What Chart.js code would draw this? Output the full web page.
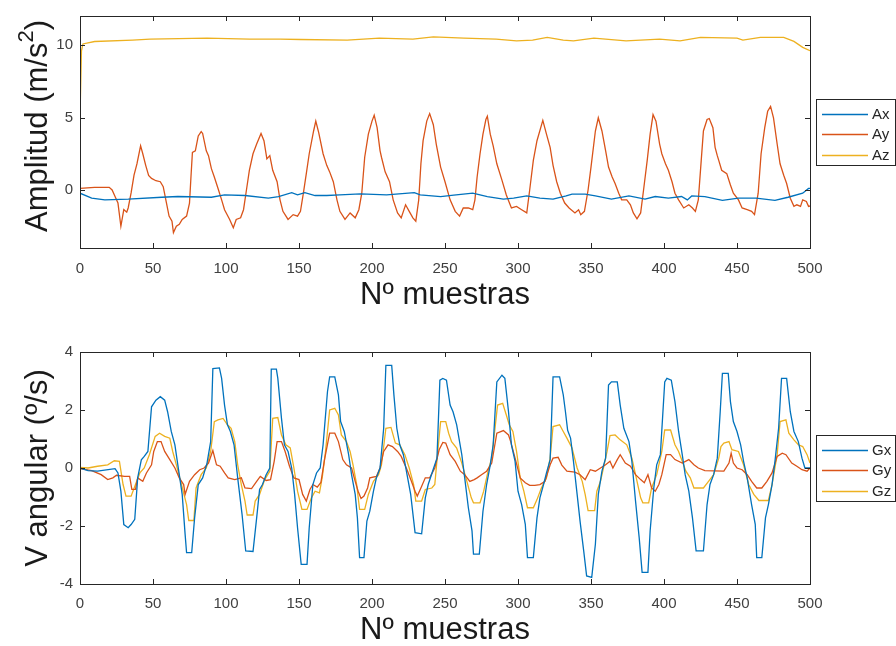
<!DOCTYPE html>
<html>
<head>
<meta charset="utf-8">
<script src="https://cdn.jsdelivr.net/npm/chart.js@4.4.1/dist/chart.umd.min.js"></script>
<style>
  html, body { margin: 0; padding: 0; background: #fff; overflow: hidden; }
  #wrap { position: relative; width: 896px; height: 646px; }
  canvas { position: absolute; left: 0; }
  #accChart { top: 0; }
  #gyroChart { top: 328px; }
</style>
</head>
<body>
<div id="wrap">
  <canvas id="accChart" width="896" height="318"></canvas>
  <canvas id="gyroChart" width="896" height="318"></canvas>
</div>
<script>
// tick labels
const xTicks = [0, 50, 100, 150, 200, 250, 300, 350, 400, 450, 500];
const accTicks = [0, 5, 10];
const gyroTicks = [-4, -2, 0, 2, 4];

// accelerometer, [sample, value]
const ax = [[0,-0.22],[8,-0.56],[17,-0.68],[33,-0.63],[56,-0.5],[67,-0.45],[90,-0.5],[99,-0.34],[113,-0.38],[129,-0.56],[136,-0.45],[145,-0.18],[149,-0.34],[154,-0.18],[161,-0.38],[169,-0.38],[178,-0.34],[192,-0.27],[210,-0.34],[229,-0.18],[233,-0.34],[247,-0.45],[256,-0.36],[269,-0.22],[279,-0.45],[290,-0.63],[297,-0.56],[306,-0.41],[315,-0.56],[324,-0.63],[333,-0.41],[337,-0.29],[346,-0.29],[353,-0.41],[364,-0.63],[376,-0.41],[387,-0.63],[394,-0.45],[403,-0.56],[412,-0.45],[416,-0.68],[419,-0.41],[428,-0.45],[440,-0.72],[451,-0.56],[463,-0.56],[476,-0.72],[485,-0.5],[495,-0.22],[499,0.11],[500,0.11]];

const ay = [[0,0.11],[10,0.18],[20,0.18],[22,0],[24,-0.45],[26,-0.9],[28,-2.5],[30,-1.35],[32,-1.53],[33,-1.24],[35,-0.2],[37,1.02],[39,1.8],[41.5,3.05],[43,2.5],[45,1.7],[47,1.0],[49,0.8],[52,0.64],[55,0.57],[57,0.23],[59,-0.79],[61,-1.8],[63,-2.15],[64,-2.94],[66,-2.5],[68,-2.37],[70,-2.03],[73,-1.8],[75,-0.9],[76,0.9],[77,2.6],[79,2.7],[81,3.73],[83,4.03],[84,3.9],[86.5,2.7],[88,2.37],[90,1.47],[92,0.9],[94.5,0.12],[97,-0.68],[99,-1.36],[102.5,-2.03],[105,-2.6],[107,-2.03],[110,-1.92],[112,-1.36],[114,0],[116,1.36],[118.5,2.5],[121,3.17],[124,3.9],[126,3.4],[128,2.15],[130,2.37],[132,1.36],[135,0.57],[137,-0.68],[139,-1.47],[142.5,-2.03],[146,-1.7],[149,-1.8],[151,-1.47],[153,-0.22],[155,1.13],[157,2.5],[160,4.07],[161.5,4.75],[163.5,3.96],[166.5,2.5],[169,1.7],[171,1.25],[173.5,0.57],[176,-0.68],[178,-1.47],[181.5,-2.03],[185,-1.58],[188.5,-1.92],[191,-1.36],[193,-0.22],[195,2.26],[197.5,3.85],[200,4.75],[201.5,5.16],[203.5,4.3],[205.5,2.72],[206.5,2.26],[209,1.25],[212,0.57],[214.5,-0.68],[217.5,-1.58],[220,-1.92],[223,-1.02],[225.5,-1.47],[228,-1.92],[230,-2.15],[232,-0.68],[233.5,1.81],[235,3.4],[237.5,4.75],[239.5,5.27],[242,4.5],[244,3.17],[247,1.58],[250,0.57],[253.5,-0.68],[257,-1.47],[260,-1.8],[262.5,-1.24],[266,-1.24],[269,-1.36],[270.5,-0.68],[272,0.9],[274,2.5],[276,3.85],[278,4.86],[279,5.09],[281,3.85],[283,3.05],[285.5,1.81],[289,0.68],[292,-0.34],[295.5,-1.24],[299,-1.13],[302.5,-1.36],[306,-1.58],[308,0],[310.5,2.04],[313,3.4],[317,4.8],[319.5,3.85],[322,2.94],[324,1.7],[326.5,0.57],[329,-0.22],[332,-0.9],[335,-1.24],[339,-1.58],[341.5,-1.36],[343,-1.7],[345.5,-1.47],[348,0],[350,1.58],[353,4.07],[355,4.98],[357.5,4.07],[360,2.72],[362,1.58],[364.5,0.9],[366.5,0.45],[369,-0.22],[371,-0.68],[374.5,-0.68],[377,-1.02],[379,-1.58],[381.5,-1.99],[384,-1.58],[386,0],[388.5,2.04],[390.5,3.85],[392.5,5.2],[394.5,4.75],[397,3.17],[398.5,2.5],[401,1.81],[403,1.36],[405.5,0.57],[407.5,-0.22],[410,-0.68],[413.5,-1.24],[417,-1.02],[419.5,-1.24],[421.5,-1.47],[423.5,-0.68],[425.5,2.04],[427,4.07],[429.5,4.86],[431,4.93],[433.5,4.3],[435,2.94],[436.5,2.37],[437.5,2.04],[439.5,1.36],[443,1.13],[445.5,0.34],[447.5,-0.22],[451,-0.68],[453.5,-1.24],[457,-1.36],[460,-1.47],[462,-1.7],[464.5,-0.22],[466.5,2.5],[469,4.3],[471,5.43],[473,5.77],[475,4.98],[477.5,3.17],[479.5,1.81],[482,1.02],[484,0.45],[486.5,-0.57],[489,-1.13],[491,-1.02],[493.5,-1.13],[495,-0.68],[497.5,-0.79],[499,-1.13],[500,-1.1]];

const az = [[0,5.05],[1,9.6],[2,10.07],[10,10.24],[36,10.34],[48,10.4],[87,10.47],[116,10.4],[137,10.4],[151,10.38],[183,10.34],[205,10.47],[228,10.4],[242,10.56],[263,10.47],[285,10.4],[299,10.29],[310,10.34],[320,10.52],[331,10.34],[338,10.29],[352,10.47],[374,10.29],[397,10.4],[411,10.29],[425,10.52],[450,10.47],[454,10.34],[466,10.52],[482,10.52],[489,10.25],[495,9.84],[500,9.61]];

// gyroscope
const gx = [[0,0],[5.5,-0.09],[12,-0.11],[24,-0.02],[26,-0.17],[28,-0.8],[30,-1.95],[33,-2.06],[35,-1.95],[37.5,-1.77],[39.5,-0.34],[42,0.28],[44,0.4],[46.5,0.57],[49,2.11],[52,2.34],[55,2.46],[58,2.34],[60,1.94],[62.5,1.26],[65,0.8],[67,0.11],[70,-0.91],[72,-2.29],[73,-2.92],[76.5,-2.92],[78.5,-1.72],[81,-0.57],[84,-0.34],[87,0.17],[89.5,0.91],[91,3.43],[95.5,3.45],[97,3.09],[99,2.17],[101,1.49],[103,1.26],[105.5,0.8],[108,-0.34],[111,-1.6],[113.5,-2.86],[118.5,-2.88],[121,-1.72],[123,-0.74],[125,-0.57],[127.5,-0.23],[130,0],[131,3.41],[134.5,3.41],[135.5,3.09],[138,1.71],[140,0.8],[142.5,0.57],[145,0],[147,-0.91],[149,-2.06],[151.5,-3.32],[155.5,-3.32],[157,-2.06],[159.5,-0.57],[162,-0.17],[164.5,0],[166.5,0.8],[169.5,2.63],[171,3.14],[174.5,3.14],[177,2.52],[178.5,1.6],[181,1.26],[184,0.46],[186,-0.23],[188.5,-0.91],[190,-1.72],[191.5,-3.09],[194.5,-3.09],[196.5,-1.83],[198.5,-1.49],[201,-0.8],[203,-0.34],[205.5,0],[208,1.37],[209.5,3.54],[213.5,3.54],[215,2.52],[217,1.37],[219,0.8],[221.5,0.46],[224,-0.23],[226.5,-0.91],[229.5,-2.23],[234,-2.27],[236.5,-1.03],[238.5,-0.57],[241.5,-0.11],[244.5,0.34],[246.5,3.03],[248.5,3.09],[251,3.03],[253.5,2.17],[255.5,1.94],[258,1.49],[261.5,0.46],[263.5,-0.34],[266,-1.37],[268.5,-2.17],[269.5,-2.97],[273.5,-2.97],[276,-1.49],[278.5,-0.57],[281,0.11],[283,0.8],[285.5,2.97],[289,3.2],[291,3.09],[293.5,1.94],[295.5,0.8],[298,0.23],[300,-0.8],[302.5,-1.26],[305,-1.94],[306.5,-3.09],[310.5,-3.09],[313,-1.72],[315,-1.03],[317.5,-0.57],[319.5,-0.17],[322,0.28],[324,3.14],[328.5,3.14],[331,2.52],[332.5,1.94],[334,1.3],[336,1.03],[338,0.23],[340.5,-0.91],[342.5,-1.83],[345,-2.86],[347,-3.72],[350.5,-3.77],[353,-2.63],[355,-0.91],[357.5,-0.11],[360,0.34],[362,2.86],[364,2.97],[368,2.97],[370,2.17],[372.5,1.37],[376,0.91],[378,0.23],[380.5,-1.14],[383,-2.4],[385,-3.6],[389,-3.6],[390.5,-2.17],[393,-0.69],[395,0.11],[397.5,0.46],[400.5,2.97],[402,3.09],[405,3.03],[407.5,2.29],[410,1.26],[412.5,0.46],[414.5,-0.23],[417,-0.8],[419.5,-1.72],[422,-2.86],[427,-2.86],[429.5,-1.26],[431.5,-0.57],[434,-0.23],[436.5,0.34],[438.5,1.94],[440,3.26],[444,3.26],[445.5,2.29],[447.5,1.6],[450,1.26],[452.5,0.8],[454.5,0.23],[457,-0.34],[460,-1.26],[462.5,-1.94],[463.5,-3.09],[467,-3.09],[469.5,-1.72],[471.5,-1.26],[474,-0.57],[476,0.23],[478.5,1.37],[480.5,3.09],[484,3.09],[486.5,1.94],[489,1.26],[492,0.91],[494.5,0.34],[496.5,0],[500,0]];

const gy = [[0,-0.02],[8,-0.09],[14.5,-0.23],[19,-0.4],[22.5,-0.34],[25,-0.25],[30.5,-0.29],[34,-0.29],[35.5,-0.74],[38,-0.74],[39.5,-0.34],[43,-0.46],[45.5,-0.17],[49,0.11],[50.5,0.57],[53,0.91],[55.5,0.91],[58,0.57],[61.5,0.29],[65,0],[68,-0.34],[71,-0.57],[72,-0.91],[75,-0.46],[78.5,-0.23],[82,-0.06],[85,0],[88,0.17],[91,0.6],[93.5,0.11],[96,0.06],[99,-0.17],[101.5,-0.34],[106,-0.4],[110.5,-0.34],[113,-0.69],[117.5,-0.71],[121,-0.46],[123.5,-0.29],[127.5,-0.43],[130.5,-0.4],[133,0.23],[135,0.91],[138,0.91],[140.5,0.57],[143.5,0.06],[146.5,-0.34],[150,-0.4],[152.5,-0.91],[155,-1.14],[157.5,-0.74],[159.5,-0.57],[162.5,-0.66],[165,-0.5],[167.5,0.3],[171,1.2],[174.5,1.2],[177,0.91],[180,0.29],[182.5,0.11],[186,0],[188.5,-0.46],[190.5,-0.8],[192.5,-1.05],[194.5,-0.97],[197,-0.69],[198.5,-0.34],[203,-0.29],[205.5,0],[208,0.57],[211,0.8],[214,0.74],[217.5,0.57],[220,0.4],[224,-0.06],[227,-0.46],[229.5,-0.8],[231,-0.97],[233.5,-0.69],[236.5,-0.34],[239.5,-0.34],[243,0],[246,0.63],[248.5,0.88],[250.5,0.86],[253.5,0.46],[257,0.23],[260.5,-0.11],[263.5,-0.23],[267,-0.46],[270,-0.4],[272,-0.34],[275,-0.23],[278.5,-0.11],[282,0.17],[285.5,1.2],[290,1.29],[293.5,1.14],[295,0.91],[298,0.34],[301.5,-0.34],[305,-0.51],[308,-0.6],[311.5,-0.6],[315,-0.57],[318.5,-0.46],[322,0.11],[324,0.34],[327.5,0.37],[330,0.1],[333.5,-0.11],[339,-0.14],[342.5,-0.23],[346,-0.4],[349.5,-0.06],[353,-0.11],[356.5,0],[360,0.11],[363,0.23],[365,0],[368,0.29],[370,0.46],[373.5,0.17],[377,0.06],[380.5,-0.23],[384,-0.4],[386.5,-0.51],[389,-0.23],[391.5,-0.69],[394,-0.8],[396.5,-0.57],[398.5,-0.23],[401.5,0.46],[404.5,0.46],[407.5,0.29],[412.5,0.17],[417,0.29],[420.5,0.11],[423.5,0],[428,-0.09],[441,-0.11],[444.5,0.17],[446,0.51],[447.5,0.17],[450,0],[453.5,-0.06],[457,-0.23],[460,-0.46],[463.5,-0.69],[467,-0.69],[470.5,-0.46],[474,-0.17],[477.5,0.4],[481,0.51],[483.5,0.46],[487.5,0.17],[491,0.06],[494.5,-0.06],[498,-0.11],[500,0]];

const gz = [[0,0.02],[5.5,0],[12,0.06],[19,0.11],[23.5,0.25],[27,0.23],[29.5,-0.57],[31.5,-0.97],[35,-0.97],[38,-0.57],[41,-0.17],[44,0],[47.5,0.46],[51.5,1.09],[54.5,1.2],[58,1.09],[61.5,1.03],[63.5,0.57],[66,0.11],[69.5,-0.57],[73,-1.26],[74.5,-1.81],[78,-1.81],[79.5,-0.69],[83,-0.23],[86.5,0],[89.5,0.57],[92,1.6],[94.5,1.66],[98,1.71],[101,1.49],[103.5,1.37],[106,0.91],[108,0.11],[110.5,-0.57],[113,-1.14],[114.5,-1.62],[118.5,-1.62],[120,-1.14],[123,-0.91],[126.5,-0.4],[130,-0.11],[132,1.71],[135.5,1.74],[138,1.14],[141,0.8],[144,0.69],[146.5,0],[149,-0.8],[152,-1.43],[155.5,-1.43],[158.5,-1.03],[161,-0.8],[164,-0.86],[166,-0.3],[168,0.5],[171,2.0],[174.5,2.06],[177,1.83],[179,1.14],[182.5,0.91],[185,0.57],[187,0.11],[189.5,-0.57],[191.5,-1.43],[195,-1.43],[197.5,-0.91],[201,-0.46],[204.5,-0.23],[206.5,0.11],[209.5,1.37],[213,1.4],[216,0.86],[219,0.8],[222.5,0.46],[225.5,0],[228.5,-0.57],[230,-1.14],[234,-1.14],[236.5,-0.74],[241,-0.69],[243,-0.57],[245.5,0.8],[247,1.6],[250.5,1.6],[252.5,1.2],[254.5,0.91],[258,0.69],[261.5,0.17],[265,-0.46],[268,-1.03],[269.5,-1.2],[274,-1.2],[276.5,-0.8],[279.5,-0.11],[282,0.34],[286,2.17],[289.5,2.23],[292,1.83],[294,1.49],[296.5,1.26],[299,0.57],[301.5,-0.34],[304,-0.8],[306.5,-1.37],[310.5,-1.37],[313,-1.09],[316,-0.69],[319.5,-0.34],[322,0.34],[324,1.43],[328.5,1.49],[331,1.26],[333.5,1.03],[337,0.69],[340.5,0],[344,-0.46],[346,-0.91],[348,-1.47],[352.5,-1.47],[354,-0.8],[356.5,-0.46],[358.5,0],[361,0.57],[363,1.12],[366.5,1.14],[370,0.97],[374.5,0.8],[378,0.34],[381,-0.34],[384,-1.03],[385.5,-1.2],[389.5,-1.2],[391.5,-0.69],[395,-0.23],[398.5,0.57],[400.5,1.31],[404.5,1.31],[407.5,0.8],[410,0.57],[412.5,0.23],[415,-0.11],[418,-0.34],[420.5,-0.69],[427,-0.69],[430.5,-0.46],[434,-0.23],[437.5,0.34],[439,0.74],[441,0.86],[444.5,0.91],[446.5,0.63],[451,0.57],[454.5,0.11],[458,-0.57],[461.5,-0.91],[465,-1.12],[471.5,-1.12],[474,-0.57],[477.5,0.46],[479.5,1.6],[483.5,1.66],[485.5,1.2],[489,0.97],[492,0.8],[495,0.74],[498,0.46],[500,0.17]];

const BLUE = "#0072bd";
const ORANGE = "#d95319";
const YELLOW = "#edb120";
const AXIS = "#262626";
const FONT = "'Liberation Sans', Arial, Helvetica, sans-serif";
const TITLE_SIZE = 31;

// MATLAB-style box with inward ticks on all four sides
const framePlugin = {
  id: "frame",
  afterDatasetsDraw(chart) {
    const { ctx, chartArea: a, scales } = chart;
    ctx.save();
    ctx.strokeStyle = AXIS;
    ctx.lineWidth = 1;
    ctx.beginPath();
    scales.x.ticks.forEach((t) => {
      const px = Math.round(scales.x.getPixelForValue(t.value)) + 0.5;
      ctx.moveTo(px, a.bottom);
      ctx.lineTo(px, a.bottom - 5);
      ctx.moveTo(px, a.top);
      ctx.lineTo(px, a.top + 5);
    });
    scales.y.ticks.forEach((t) => {
      const py = Math.round(scales.y.getPixelForValue(t.value)) + 0.5;
      ctx.moveTo(a.left, py);
      ctx.lineTo(a.left + 5, py);
      ctx.moveTo(a.right, py);
      ctx.lineTo(a.right - 5, py);
    });
    ctx.stroke();
    ctx.strokeRect(a.left + 0.5, a.top + 0.5, a.right - a.left, a.bottom - a.top);
    ctx.restore();
  },
};

// legend box outside the axes, on the right
const legendPlugin = {
  id: "sideLegend",
  afterDraw(chart) {
    const { ctx, chartArea: a } = chart;
    const sets = chart.data.datasets;
    const boxLeft = a.right + 6;
    const boxH = 66;
    const boxTop = Math.round((a.top + a.bottom) / 2 - boxH / 2) + 0.5;
    ctx.save();
    ctx.fillStyle = "#fff";
    ctx.fillRect(boxLeft, boxTop, 79, boxH);
    ctx.strokeStyle = AXIS;
    ctx.lineWidth = 1;
    ctx.strokeRect(boxLeft + 0.5, boxTop, 79, boxH);
    ctx.font = "15px " + FONT;
    ctx.textBaseline = "middle";
    ctx.fillStyle = AXIS;
    sets.forEach((ds, i) => {
      const y = Math.round(boxTop + 14 + i * 20.5) + 0.5;
      ctx.strokeStyle = ds.borderColor;
      ctx.lineWidth = 1.3;
      ctx.beginPath();
      ctx.moveTo(boxLeft + 6, y);
      ctx.lineTo(boxLeft + 52, y);
      ctx.stroke();
      ctx.fillText(ds.label, boxLeft + 56, y);
    });
    ctx.restore();
  },
};

// rotated y label, parts allow a raised exponent
const yTitlePlugin = {
  id: "yTitle",
  afterDraw(chart, args, opts) {
    const { ctx, chartArea: a } = chart;
    const parts = opts.parts || [];
    const fontFor = (p) => (p.sup ? Math.round(TITLE_SIZE * 0.7) : TITLE_SIZE) + "px " + FONT;
    let total = 0;
    parts.forEach((p) => { ctx.font = fontFor(p); total += ctx.measureText(p.text).width; });
    ctx.save();
    ctx.translate(opts.x, (a.top + a.bottom) / 2 + (opts.shift || 0));
    ctx.rotate(-Math.PI / 2);
    ctx.fillStyle = "#1a1a1a";
    ctx.textBaseline = "middle";
    let cx = -total / 2;
    parts.forEach((p) => {
      ctx.font = fontFor(p);
      ctx.fillText(p.text, cx, p.sup ? -11 : 0);
      cx += ctx.measureText(p.text).width;
    });
    ctx.restore();
  },
};

function series(label, pts, color) {
  return {
    label,
    data: pts.map(([x, y]) => ({ x, y })),
    borderColor: color,
    backgroundColor: color,
    borderWidth: 1.3,
    pointRadius: 0,
    tension: 0,
    fill: false,
  };
}

function makeChart(canvas, opts) {
  return new Chart(canvas, {
    type: "line",
    data: { datasets: opts.datasets },
    options: {
      responsive: false,
      animation: false,
      devicePixelRatio: 1,
      layout: { padding: { top: opts.top, right: 86, left: 0, bottom: 0 } },
      plugins: {
        legend: { display: false },
        tooltip: { enabled: false },
        yTitle: { parts: opts.yTitle, x: 38, shift: opts.yTitleShift },
      },
      scales: {
        x: {
          type: "linear",
          min: 0,
          max: 500,
          afterBuildTicks: (s) => { s.ticks = xTicks.map((v) => ({ value: v })); },
          afterFit: (s) => { s.height = opts.xHeight; },
          grid: { display: false, drawTicks: false },
          border: { display: false },
          ticks: { color: "#404040", font: { family: FONT, size: 15 }, padding: opts.xTickPad, maxRotation: 0, autoSkip: false },
          title: {
            display: true,
            text: "Nº muestras",
            color: "#1a1a1a",
            font: { family: FONT, size: TITLE_SIZE, lineHeight: 1 },
            padding: { top: 0, bottom: opts.xTitlePad },
          },
        },
        y: {
          type: "linear",
          min: opts.yMin,
          max: opts.yMax,
          afterBuildTicks: (s) => { s.ticks = opts.yTicks.map((v) => ({ value: v })); },
          afterFit: (s) => { s.width = 80; },
          grid: { display: false, drawTicks: false },
          border: { display: false },
          ticks: { color: "#404040", font: { family: FONT, size: 15 }, padding: 7 },
          title: { display: false },
        },
      },
    },
    plugins: [framePlugin, legendPlugin, yTitlePlugin],
  });
}

makeChart(document.getElementById("accChart"), {
  datasets: [series("Ax", ax, BLUE), series("Ay", ay, ORANGE), series("Az", az, YELLOW)],
  top: 15,
  xHeight: 70,
  xTickPad: 12,
  xTitlePad: 7,
  yMin: -4,
  yMax: 12,
  yTicks: accTicks,
  yTitle: [{ text: "Amplitud (m/s" }, { text: "2", sup: true }, { text: ")" }],
  yTitleShift: -6,
});

makeChart(document.getElementById("gyroChart"), {
  datasets: [series("Gx", gx, BLUE), series("Gy", gy, ORANGE), series("Gz", gz, YELLOW)],
  top: 24,
  xHeight: 62,
  xTickPad: 11,
  xTitlePad: 0,
  yMin: -4,
  yMax: 4,
  yTicks: gyroTicks,
  yTitle: [{ text: "V angular (º/s)" }],
  yTitleShift: 0,
});
</script>
</body>
</html>
